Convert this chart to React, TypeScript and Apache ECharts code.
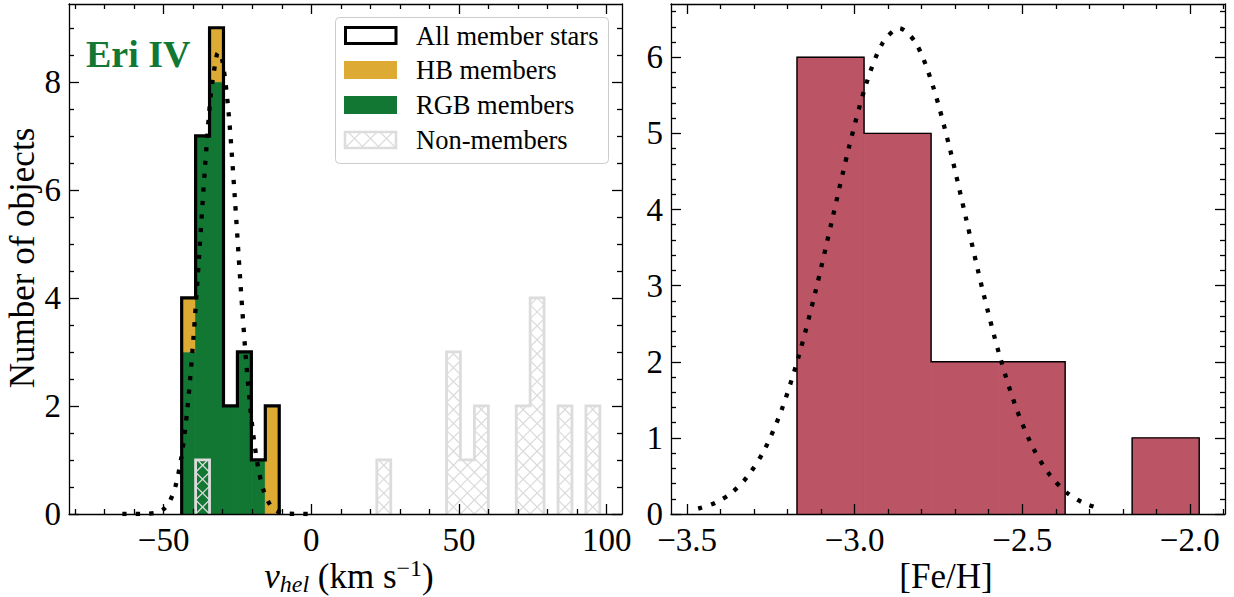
import React, { useEffect, useRef } from 'react';
import * as echarts from 'echarts';

// ---------------- data ----------------
// velocity histogram (30 bins)
const V_BIN_START = -43.9;
const V_BIN_WIDTH = 4.72;
const rgbCounts = [3, 7, 8, 2, 3, 1, 0];
const hbCounts = [1, 0, 1, 0, 0, 0, 2];
const nonMemberCounts = [0, 1, 0, 0, 0, 0, 0, 0, 0, 0, 0, 0, 0, 0, 1, 0, 0, 0, 0, 3, 1, 2, 0, 0, 2, 4, 0, 2, 0, 2];
// gaussian fit to velocities
const velFitX = [-64, -60, -56, -52, -50, -48, -46, -44, -42, -40, -38, -36, -34, -32, -31.3, -30, -28, -26, -24, -22, -20, -18, -16, -14, -12, -10, -8, -4, 0];
const velFitY = [0.0, 0.0002, 0.003, 0.032, 0.09, 0.227, 0.514, 1.049, 1.929, 3.194, 4.768, 6.415, 7.776, 8.5, 8.55, 8.36, 7.42, 5.933, 4.274, 2.776, 1.624, 0.857, 0.407, 0.174, 0.067, 0.023, 0.007, 0.0005, 0.0];

// [Fe/H] histogram
const FEH_BIN_START = -3.172;
const FEH_BIN_WIDTH = 0.2;
const fehCounts = [6, 5, 2, 2, 0, 1];
const fehFitX = [-3.467, -3.417, -3.367, -3.317, -3.267, -3.217, -3.167, -3.117, -3.067, -3.017, -2.967, -2.917, -2.867, -2.817, -2.767, -2.717, -2.667, -2.617, -2.567, -2.517, -2.467, -2.417, -2.367, -2.317, -2.267];
const fehFitY = [0.071, 0.145, 0.28, 0.508, 0.863, 1.38, 2.072, 2.921, 3.87, 4.817, 5.63, 6.184, 6.38, 6.184, 5.63, 4.817, 3.87, 2.921, 2.072, 1.38, 0.863, 0.508, 0.28, 0.145, 0.071];

// ticks
const vTicks = [-50, 0, 50, 100];
const vMinor = [-80, -70, -60, -40, -30, -20, -10, 10, 20, 30, 40, 60, 70, 80, 90];
const nLeftTicks = [0, 2, 4, 6, 8];
const nLeftMinor = [0.5, 1, 1.5, 2.5, 3, 3.5, 4.5, 5, 5.5, 6.5, 7, 7.5, 8.5, 9];
const fehTicks = [-3.5, -3.0, -2.5, -2.0];
const fehMinor = [-3.4, -3.3, -3.2, -3.1, -2.9, -2.8, -2.7, -2.6, -2.4, -2.3, -2.2, -2.1, -1.9];
const nRightTicks = [0, 1, 2, 3, 4, 5, 6];
const nRightMinor = [0.2, 0.4, 0.6, 0.8, 1.2, 1.4, 1.6, 1.8, 2.2, 2.4, 2.6, 2.8, 3.2, 3.4, 3.6, 3.8, 4.2, 4.4, 4.6, 4.8, 5.2, 5.4, 5.6, 5.8, 6.2, 6.4, 6.6];

const legendLabels = ['All member stars', 'HB members', 'RGB members', 'Non-members'];
const panelLabel = 'Eri IV';

// ---------------- style ----------------
const FONT = '"Liberation Serif", "DejaVu Serif", serif';
const YELLOW = '#DDAA33';
const GREEN = '#117733';
const RED = '#BB5566';
const GRAY = '#dcdcdc';
const TICK_FS = 33;
const TITLE_FS = 35;

const L = { left: 69, top: 4, width: 553, height: 510 };
const R = { left: 671, top: 4, width: 554, height: 510 };

const fmt = (v: number, d: number) => (d > 0 ? v.toFixed(d) : String(v)).replace('-', '\u2212');

function hatchSegs(x0: number, y0: number, x1: number, y1: number, P: number) {
  const segs: number[][] = [];
  const b1 = x0 + y1;
  for (let k = Math.floor((x0 + y0 - b1) / P) - 1; b1 + k * P <= x1 + y1 + 0.01; k++) {
    const c = b1 + k * P;
    const lo = Math.max(x0, c - y1), hi = Math.min(x1, c - y0);
    if (hi - lo > 0.3) segs.push([lo, c - lo, hi, c - hi]);
  }
  const b2 = x1 - y1;
  for (let k = Math.floor((x0 - y1 - b2) / P) - 1; b2 + k * P <= x1 - y0 + 0.01; k++) {
    const c = b2 + k * P;
    const lo = Math.max(x0, c + y0), hi = Math.min(x1, c + y1);
    if (hi - lo > 0.3) segs.push([lo, lo - c, hi, hi - c]);
  }
  return segs;
}

function runs(counts: number[]) {
  const out: number[][] = [];
  let cur: number[] | null = null;
  counts.forEach((c, i) => {
    if (c > 0) {
      if (!cur) { cur = []; out.push(cur); }
      cur.push(i);
    } else cur = null;
  });
  return out;
}

function stepOutline(counts: number[], idxs: number[], start: number, width: number) {
  const pts: number[][] = [];
  const first = idxs[0];
  pts.push([start + first * width, 0]);
  idxs.forEach((i) => {
    pts.push([start + i * width, counts[i]]);
    pts.push([start + (i + 1) * width, counts[i]]);
  });
  pts.push([start + (idxs[idxs.length - 1] + 1) * width, 0]);
  return pts;
}

function makeAxes(gridIndex: number, dim: 'x' | 'y', min: number, max: number, major: number[], minor: number[], labelFmt: (v: number) => string) {
  const isX = dim === 'x';
  const pos = isX ? ['bottom', 'top'] : ['left', 'right'];
  const lineStyle = { color: '#000', width: 1.3 };
  const base = { type: 'value', gridIndex, min, max, splitLine: { show: false }, z: 10 };
  return [
    {
      ...base, position: pos[0],
      axisLine: { show: true, onZero: false, lineStyle },
      axisTick: { show: true, inside: true, length: 10, customValues: major, lineStyle },
      axisLabel: {
        show: true, customValues: major, formatter: labelFmt, fontSize: TICK_FS, fontFamily: FONT, color: '#000',
        lineHeight: 24, margin: isX ? 14 : 8,
      },
    },
    {
      ...base, position: pos[0],
      axisLine: { show: false, onZero: false },
      axisTick: { show: true, inside: true, length: 5, customValues: minor, lineStyle },
      axisLabel: { show: false },
    },
    {
      ...base, position: pos[1],
      axisLine: { show: true, onZero: false, lineStyle },
      axisTick: { show: true, inside: true, length: 10, customValues: major, lineStyle },
      axisLabel: { show: false },
    },
    {
      ...base, position: pos[1],
      axisLine: { show: false, onZero: false },
      axisTick: { show: true, inside: true, length: 5, customValues: minor, lineStyle },
      axisLabel: { show: false },
    },
  ];
}

function buildOption() {
  const series: any[] = [];

  // ---- left panel ----
  const memberBars: any[] = [];
  rgbCounts.forEach((c, i) => {
    const lo = V_BIN_START + i * V_BIN_WIDTH;
    if (c > 0) memberBars.push({ value: [lo, lo + V_BIN_WIDTH, 0, c], itemStyle: { color: GREEN } });
    if (hbCounts[i] > 0) memberBars.push({ value: [lo, lo + V_BIN_WIDTH, c, c + hbCounts[i]], itemStyle: { color: YELLOW } });
  });
  series.push({
    type: 'custom', xAxisIndex: 0, yAxisIndex: 0, z: 2,
    data: memberBars,
    encode: { x: [0, 1], y: [2, 3] },
    renderItem: (params: any, api: any) => {
      const p0 = api.coord([api.value(0), api.value(3)]);
      const p1 = api.coord([api.value(1), api.value(2)]);
      const col = api.visual('color');
      return {
        type: 'rect',
        shape: { x: p0[0], y: p0[1], width: p1[0] - p0[0], height: p1[1] - p0[1] },
        style: { fill: col, stroke: col, lineWidth: 0.8 },
      };
    },
  });

  // non-members hatched
  const nonData: any[] = [];
  nonMemberCounts.forEach((c, i) => {
    if (c > 0) {
      const lo = V_BIN_START + i * V_BIN_WIDTH;
      nonData.push([lo, lo + V_BIN_WIDTH, c]);
    }
  });
  series.push({
    type: 'custom', xAxisIndex: 0, yAxisIndex: 0, z: 3,
    data: nonData,
    encode: { x: [0, 1], y: 2 },
    renderItem: (params: any, api: any) => {
      const p0 = api.coord([api.value(0), api.value(2)]);
      const p1 = api.coord([api.value(1), 0]);
      const P = p1[0] - p0[0];
      const segs = hatchSegs(p0[0], p0[1], p1[0], p1[1], P);
      return {
        type: 'group',
        children: segs.map((s) => ({
          type: 'line',
          shape: { x1: s[0], y1: s[1], x2: s[2], y2: s[3] },
          style: { stroke: GRAY, lineWidth: 1.3 },
        })),
      };
    },
  });
  runs(nonMemberCounts).forEach((r) => {
    series.push({
      type: 'line', xAxisIndex: 0, yAxisIndex: 0, z: 4,
      data: stepOutline(nonMemberCounts, r, V_BIN_START, V_BIN_WIDTH),
      symbol: 'none', silent: true,
      lineStyle: { color: GRAY, width: 2.8, join: 'miter' },
    });
  });

  // all member outline
  const totals = rgbCounts.map((c, i) => c + hbCounts[i]);
  runs(totals).forEach((r) => {
    series.push({
      type: 'line', xAxisIndex: 0, yAxisIndex: 0, z: 5,
      data: stepOutline(totals, r, V_BIN_START, V_BIN_WIDTH),
      symbol: 'none', silent: true,
      lineStyle: { color: '#000', width: 3.2, join: 'miter' },
    });
  });

  series.push({
    type: 'line', xAxisIndex: 0, yAxisIndex: 0, z: 6,
    data: velFitX.map((x, i) => [x, velFitY[i]]),
    symbol: 'none', smooth: 0.3, silent: true,
    lineStyle: { color: '#000', width: 4.3, type: [4.3, 9.2], cap: 'butt' },
  });

  // ---- right panel ----
  const fehBars: any[] = [];
  fehCounts.forEach((c, i) => {
    const lo = FEH_BIN_START + i * FEH_BIN_WIDTH;
    if (c > 0) fehBars.push([lo, lo + FEH_BIN_WIDTH, c]);
  });
  series.push({
    type: 'custom', xAxisIndex: 4, yAxisIndex: 4, z: 2,
    data: fehBars,
    encode: { x: [0, 1], y: 2 },
    renderItem: (params: any, api: any) => {
      const p0 = api.coord([api.value(0), api.value(2)]);
      const p1 = api.coord([api.value(1), 0]);
      return {
        type: 'rect',
        shape: { x: p0[0], y: p0[1], width: p1[0] - p0[0], height: p1[1] - p0[1] },
        style: { fill: RED, stroke: RED, lineWidth: 0.8 },
      };
    },
  });
  runs(fehCounts).forEach((r) => {
    series.push({
      type: 'line', xAxisIndex: 4, yAxisIndex: 4, z: 4,
      data: stepOutline(fehCounts, r, FEH_BIN_START, FEH_BIN_WIDTH),
      symbol: 'none', silent: true,
      lineStyle: { color: '#000', width: 1.4, join: 'miter' },
    });
  });
  series.push({
    type: 'line', xAxisIndex: 4, yAxisIndex: 4, z: 6,
    data: fehFitX.map((x, i) => [x, fehFitY[i]]),
    symbol: 'none', smooth: 0.3, silent: true,
    lineStyle: { color: '#000', width: 4.3, type: [4.3, 9.2], cap: 'butt' },
  });

  // ---- legend (graphic) ----
  const lg: any[] = [];
  lg.push({
    type: 'rect', shape: { x: 335.5, y: 17.5, width: 273, height: 146, r: 4 },
    style: { fill: 'rgba(255,255,255,0.8)', stroke: '#cccccc', lineWidth: 1 }, z: 20,
  });
  const rowY = [35.5, 70, 105, 140];
  lg.push({ type: 'rect', shape: { x: 345.5, y: 27.5, width: 50.5, height: 16 }, style: { fill: 'none', stroke: '#000', lineWidth: 3 }, z: 21 });
  lg.push({ type: 'rect', shape: { x: 344, y: 61, width: 53, height: 18 }, style: { fill: YELLOW }, z: 21 });
  lg.push({ type: 'rect', shape: { x: 344, y: 96, width: 53, height: 18 }, style: { fill: GREEN }, z: 21 });
  hatchSegs(345, 132, 396, 148, 16).forEach((s) => {
    lg.push({ type: 'line', shape: { x1: s[0], y1: s[1], x2: s[2], y2: s[3] }, style: { stroke: GRAY, lineWidth: 1.3 }, z: 21 });
  });
  lg.push({ type: 'rect', shape: { x: 345, y: 132, width: 51, height: 16 }, style: { fill: 'none', stroke: GRAY, lineWidth: 2.6 }, z: 22 });
  legendLabels.forEach((t, i) => {
    lg.push({
      type: 'text', x: 416, y: rowY[i], z: 22,
      style: { text: t, fontSize: 26.5, fontFamily: FONT, fill: '#000', align: 'left', verticalAlign: 'middle' },
    });
  });

  const graphic: any[] = [
    ...lg,
    {
      type: 'text', x: 86, y: 54, z: 22,
      style: { text: panelLabel, fontSize: 38, fontWeight: 'bold', fontFamily: FONT, fill: GREEN, align: 'left', verticalAlign: 'middle' },
    },
    {
      type: 'text', x: 22, y: 258, rotation: Math.PI / 2, z: 22,
      style: { text: 'Number of objects', fontSize: TITLE_FS, fontFamily: FONT, fill: '#000', align: 'center', verticalAlign: 'middle' },
    },
    {
      type: 'text', x: 349, y: 576, z: 22,
      style: {
        text: '{a|v}{b|hel}{c| (km s}{d|\u22121}{c|)}',
        align: 'center', verticalAlign: 'middle', fontFamily: FONT, fill: '#000',
        rich: {
          a: { fontSize: TITLE_FS, fontStyle: 'italic', fontFamily: FONT, lineHeight: 40, verticalAlign: 'middle' },
          b: { fontSize: 24, fontStyle: 'italic', fontFamily: FONT, lineHeight: 24, verticalAlign: 'bottom' },
          c: { fontSize: TITLE_FS, fontFamily: FONT, lineHeight: 40, verticalAlign: 'middle' },
          d: { fontSize: 24, fontFamily: FONT, lineHeight: 22, verticalAlign: 'top' },
        },
      },
    },
    {
      type: 'text', x: 946, y: 576, z: 22,
      style: { text: '[Fe/H]', fontSize: TITLE_FS, fontFamily: FONT, fill: '#000', align: 'center', verticalAlign: 'middle' },
    },
  ];

  return {
    animation: false,
    backgroundColor: '#ffffff',
    grid: [
      { ...L, containLabel: false },
      { ...R, containLabel: false },
    ],
    xAxis: [
      ...makeAxes(0, 'x', -82.05, 105.2, vTicks, vMinor, (v) => fmt(v, 0)),
      ...makeAxes(1, 'x', -3.548, -1.895, fehTicks, fehMinor, (v) => fmt(v, 1)),
    ],
    yAxis: [
      ...makeAxes(0, 'y', 0, 9.44, nLeftTicks, nLeftMinor, (v) => fmt(v, 0)),
      ...makeAxes(1, 'y', 0, 6.7, nRightTicks, nRightMinor, (v) => fmt(v, 0)),
    ],
    series,
    graphic,
  };
}

export default function App() {
  const ref = useRef<HTMLDivElement>(null);
  useEffect(() => {
    if (!ref.current) return;
    const chart = echarts.init(ref.current, undefined, { renderer: 'svg' });
    chart.setOption(buildOption() as any);
    return () => chart.dispose();
  }, []);
  return <div ref={ref} style={{ position: 'fixed', left: 0, top: 0, width: 1234, height: 597, background: '#fff' }} />;
}
